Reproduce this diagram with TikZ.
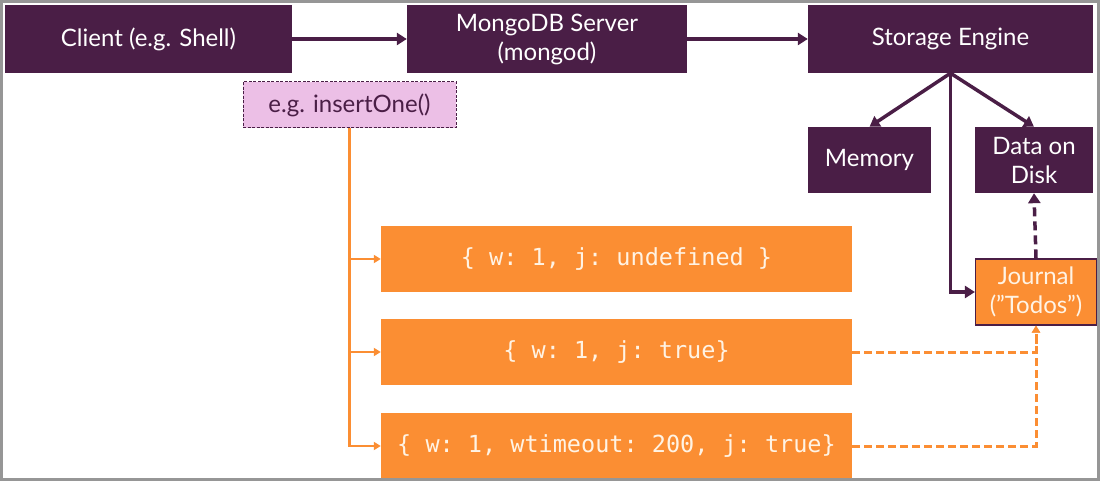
\documentclass[tikz,border=0pt]{standalone}
\usepackage{fontspec}
\setmainfont{Lato}
\setmonofont{DejaVu Sans Mono}
\usepackage{tikz}
\usetikzlibrary{positioning}
\usetikzlibrary{arrows.meta}

\definecolor{mongopurple}{RGB}{74,30,70}
\definecolor{mongoorange}{RGB}{251,142,51}
\definecolor{mongopink}{RGB}{236,191,230}
\definecolor{framegray}{RGB}{150,150,150}
\definecolor{paletext}{RGB}{255,243,228}

\begin{document}
\begin{tikzpicture}[x=1pt, y=-1pt,
    box/.style={fill=mongopurple, text=white, inner sep=0pt, align=center, font=\fontsize{24}{29}\selectfont},
    optbox/.style={fill=mongoorange, text=paletext, minimum width=471pt, minimum height=66pt, inner sep=0pt, font=\ttfamily\fontsize{23.5}{28}\selectfont},
    flow/.style={mongopurple, line width=3.5pt, -{Triangle[length=10pt,width=12pt]}},
    call/.style={mongoorange, line width=2.5pt, -{Triangle[length=7pt,width=8pt]}},
]
    \useasboundingbox (0,0) rectangle (1100,481);

    % Main boxes
    \node[box, minimum width=287pt, minimum height=68pt] (client) at (148.5,39) {Client (e.g. Shell)};
    \node[box, minimum width=280pt, minimum height=68pt] (server) at (547,39) {MongoDB Server\\(mongod)};
    \node[box, minimum width=285pt, minimum height=68pt] (engine) at (950.5,39) {Storage Engine};
    \node[box, minimum width=123pt, minimum height=66pt] (memory) at (869.5,160) {Memory};
    \node[box, minimum width=118pt, minimum height=66pt] (disk) at (1034,160) {Data on\\Disk};
    \node[box, fill=mongoorange, text=paletext, draw=mongopurple, line width=1.2pt, minimum width=121pt, minimum height=66pt] (journal) at (1036,292) {Journal\\("Todos'')};

    % Call
    \node[box, fill=mongopink, text=mongopurple, draw=mongopurple, line width=1pt, dash pattern=on 3pt off 1.5pt, minimum width=213pt, minimum height=46pt] (insert) at (349.5,105) {e.g. insertOne()};

    % Options
    \node[optbox] (opt1) at (616.5,259) {\{ w: 1, j: undefined \}};
    \node[optbox] (opt2) at (616.5,352) {\{ w: 1, j: true\}};
    \node[optbox] (opt3) at (616.5,446) {\{ w: 1, wtimeout: 200, j: true\}};

    % Arrows
    \draw[flow] (client) -- (server);
    \draw[flow] (server) -- (engine);
    \draw[flow] (engine.south) -- (memory.north);
    \draw[flow] (engine.south) -- (disk.north);
    \draw[flow] (engine.south) |- (journal.west);
    \draw[flow, dash pattern=on 9pt off 5pt] (journal.north) -- (disk.south);

    \draw[call] (insert.south) |- (opt1.west);
    \draw[call] (insert.south) |- (opt2.west);
    \draw[call] (insert.south) |- (opt3.west);
    \draw[call, line width=3pt, dash pattern=on 8pt off 4pt] (opt2.east) -| (journal.south);
    \draw[call, line width=3pt, dash pattern=on 8pt off 4pt] (opt3.east) -| (journal.south);

    % Frame
    \draw[framegray, line width=3pt] (1.5,1.5) rectangle (1098.5,479.5);
\end{tikzpicture}
\end{document}
